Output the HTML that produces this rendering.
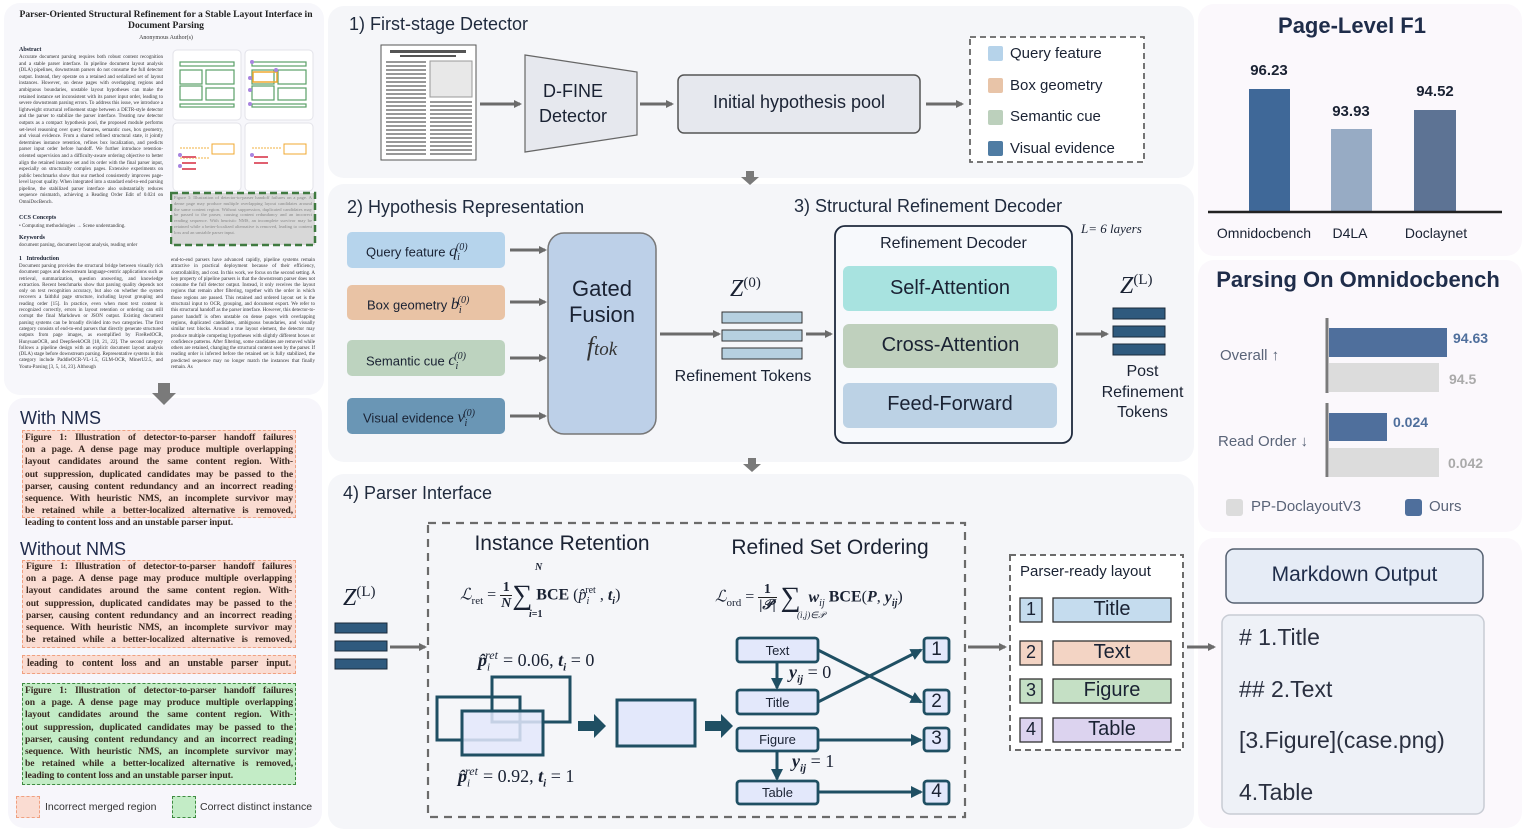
<!DOCTYPE html>
<html><head><meta charset="utf-8">
<style>
*{margin:0;padding:0;box-sizing:border-box}
body{width:1524px;height:831px;background:#fff;position:relative;overflow:hidden;font-family:"Liberation Sans",sans-serif;color:#1a2233}
.a{position:absolute}
.panel{position:absolute;border-radius:16px}
.tiny{font-family:"Liberation Serif",serif;font-size:5px;line-height:6.6px;color:#333;text-align:justify}
.fb{font-family:"Liberation Serif",serif;font-size:9.6px;line-height:12.2px;color:#3a2a22;font-weight:bold}
.fb div{text-align:justify;text-align-last:justify;white-space:nowrap;letter-spacing:-0.1px}
.h{font-size:18px;color:#1f2a3d}
.c{text-align:center}
.ser{font-family:"Liberation Serif",serif}
</style></head><body>

<!-- panels -->
<div class="panel" style="left:4px;top:3px;width:320px;height:392px;background:#f7f7fb"></div>
<div class="panel" style="left:8px;top:398px;width:314px;height:430px;background:#f7f6fb"></div>
<div class="panel" style="left:328px;top:6px;width:866px;height:172px;background:#f5f6f9"></div>
<div class="panel" style="left:328px;top:184px;width:866px;height:278px;background:#f5f6f9"></div>
<div class="panel" style="left:328px;top:474px;width:866px;height:355px;background:#f5f6f9"></div>
<div class="panel" style="left:1198px;top:4px;width:324px;height:252px;background:#fbf8fc"></div>
<div class="panel" style="left:1198px;top:260px;width:324px;height:272px;background:#fbf8fc"></div>
<div class="panel" style="left:1198px;top:538px;width:324px;height:290px;background:#fbf8fc"></div>

<!-- paper -->
<div class="a c ser" style="left:18px;top:9px;width:296px;font-size:9.6px;font-weight:bold;line-height:11px;color:#222">Parser-Oriented Structural Refinement for a Stable Layout Interface in Document Parsing</div>
<div class="a c ser" style="left:18px;top:35px;width:296px;font-size:6px;color:#333">Anonymous Author(s)</div>
<div class="a ser" style="left:19px;top:47px;font-size:6px;font-weight:bold">Abstract</div>
<div class="a tiny" style="left:19px;top:55px;width:144px">Accurate document parsing requires both robust content recognition and a stable parser interface. In pipeline document layout analysis (DLA) pipelines, downstream parsers do not consume the full detector output. Instead, they operate on a retained and serialized set of layout instances. However, on dense pages with overlapping regions and ambiguous boundaries, unstable layout hypotheses can make the retained instance set inconsistent with its parser input order, leading to severe downstream parsing errors. To address this issue, we introduce a lightweight structural refinement stage between a DETR-style detector and the parser to stabilize the parser interface. Treating raw detector outputs as a compact hypothesis pool, the proposed module performs set-level reasoning over query features, semantic cues, box geometry, and visual evidence. From a shared refined structural state, it jointly determines instance retention, refines box localization, and predicts parser input order before handoff. We further introduce retention-oriented supervision and a difficulty-aware ordering objective to better align the retained instance set and its order with the final parser input, especially on structurally complex pages. Extensive experiments on public benchmarks show that our method consistently improves page-level layout quality. When integrated into a standard end-to-end parsing pipeline, the stabilized parser interface also substantially reduces sequence mismatch, achieving a Reading Order Edit of 0.024 on OmniDocBench.</div>
<div class="a ser" style="left:19px;top:215px;font-size:6px;font-weight:bold">CCS Concepts</div>
<div class="a tiny" style="left:19px;top:224px;width:144px">• Computing methodologies → Scene understanding.</div>
<div class="a ser" style="left:19px;top:235px;font-size:6px;font-weight:bold">Keywords</div>
<div class="a tiny" style="left:19px;top:243px;width:144px">document parsing, document layout analysis, reading order</div>
<div class="a ser" style="left:19px;top:256px;font-size:6px;font-weight:bold">1 &nbsp; Introduction</div>
<div class="a tiny" style="left:19px;top:264px;width:144px;line-height:6.3px">Document parsing provides the structural bridge between visually rich document pages and downstream language-centric applications such as retrieval, summarization, question answering, and knowledge extraction. Recent benchmarks show that parsing quality depends not only on text recognition accuracy, but also on whether the system recovers a faithful page structure, including layout grouping and reading order [15]. In practice, even when most text content is recognized correctly, errors in layout retention or ordering can still corrupt the final Markdown or JSON output. Existing document parsing systems can be broadly divided into two categories. The first category consists of end-to-end parsers that directly generate structured outputs from page images, as exemplified by FireRedOCR, HunyuanOCR, and DeepSeekOCR [18, 21, 22]. The second category follows a pipeline design with an explicit document layout analysis (DLA) stage before downstream parsing. Representative systems in this category include PaddleOCR-VL-1.5, GLM-OCR, MinerU2.5, and Youtu-Parsing [3, 5, 14, 23]. Although</div>
<div class="a tiny" style="left:171px;top:258px;width:144px;line-height:6.3px">end-to-end parsers have advanced rapidly, pipeline systems remain attractive in practical deployment because of their efficiency, controllability, and cost. In this work, we focus on the second setting. A key property of pipeline parsers is that the downstream parser does not consume the full detector output. Instead, it only receives the layout regions that remain after filtering, together with the order in which those regions are passed. This retained and ordered layout set is the structural input to OCR, grouping, and document export. We refer to this structural handoff as the parser interface. However, this detector-to-parser handoff is often unstable on dense pages with overlapping regions, duplicated candidates, ambiguous boundaries, and visually similar text blocks. Around a true layout element, the detector may produce multiple competing hypotheses with slightly different boxes or confidence patterns. After filtering, some candidates are removed while others are retained, changing the structural content seen by the parser. If reading order is inferred before the retained set is fully stabilized, the predicted sequence may no longer match the instances that finally remain. As</div>
<!-- paper figure -->
<svg class="a" style="left:170px;top:48px" width="148" height="200">
 <g fill="#fff" stroke="#e3e3ea"><rect x="3" y="2" width="68" height="70" rx="4"/><rect x="75" y="2" width="68" height="70" rx="4"/><rect x="3" y="75" width="68" height="68" rx="4"/><rect x="75" y="75" width="68" height="68" rx="4"/></g>
 <g fill="none" stroke="#5aa068" stroke-width="1.2"><rect x="10" y="14" width="54" height="4"/><rect x="10" y="22" width="22" height="14"/><rect x="36" y="22" width="28" height="14"/><rect x="10" y="38" width="22" height="14"/><rect x="36" y="40" width="28" height="12"/><rect x="10" y="56" width="54" height="3"/>
 <rect x="82" y="14" width="54" height="4"/><rect x="82" y="22" width="22" height="14"/><rect x="108" y="22" width="28" height="14"/><rect x="82" y="38" width="22" height="14"/><rect x="108" y="40" width="28" height="12"/><rect x="82" y="56" width="54" height="3"/></g>
 <rect x="83" y="24" width="24" height="10" fill="none" stroke="#f0a830" stroke-width="1.5"/>
 <g fill="#a884e0"><circle cx="82" cy="14" r="2"/><circle cx="80" cy="30" r="2"/><circle cx="106" cy="22" r="2"/><circle cx="80" cy="42" r="2"/><circle cx="80" cy="56" r="2"/><circle cx="10" cy="107" r="2"/><circle cx="10" cy="118" r="2"/><circle cx="82" cy="107" r="2"/></g>
 <rect x="42" y="96" width="22" height="10" fill="#fff" stroke="#f0a830"/><rect x="114" y="96" width="22" height="10" fill="#fff" stroke="#f0a830"/>
 <g stroke="#f0b040" stroke-dasharray="2,1"><line x1="10" y1="100" x2="40" y2="100"/><line x1="10" y1="110" x2="40" y2="110"/><line x1="82" y1="100" x2="112" y2="100"/></g>
 <g fill="#e06070"><rect x="12" y="108" width="14" height="2"/><rect x="12" y="114" width="14" height="2"/><rect x="12" y="120" width="14" height="2"/><rect x="84" y="108" width="14" height="2"/><rect x="84" y="114" width="14" height="2"/></g>
 <rect x="1" y="145" width="144" height="52" fill="#d8d8d8" stroke="#3f7a40" stroke-width="2.5" stroke-dasharray="7,4"/>
</svg>
<div class="a tiny" style="left:174px;top:195px;width:138px;color:#888;font-size:4.6px;line-height:5.8px">Figure 1: Illustration of detector-to-parser handoff failures on a page. A dense page may produce multiple overlapping layout candidates around the same content region. Without suppression, duplicated candidates may be passed to the parser, causing content redundancy and an incorrect reading sequence. With heuristic NMS, an incomplete survivor may be retained while a better-localized alternative is removed, leading to content loss and an unstable parser input.</div>

<!-- left bottom -->
<div class="a" style="left:20px;top:408px;font-size:18px;color:#1f2a4a">With NMS</div>
<div class="a" style="left:22px;top:430px;width:274px;height:88px;background:#fadcd2;border:1.3px dashed #f0a080"></div>
<div class="a fb" style="left:25px;top:432px;width:268px">
<div>Figure 1: Illustration of detector-to-parser handoff failures</div><div>on a page. A dense page may produce multiple overlapping</div><div>layout candidates around the same content region. With-</div><div>out suppression, duplicated candidates may be passed to the</div><div>parser, causing content redundancy and an incorrect reading</div><div>sequence. With heuristic NMS, an incomplete survivor may</div><div>be retained while a better-localized alternative is removed,</div><div style="text-align-last:left">leading to content loss and an unstable parser input.</div></div>
<div class="a" style="left:20px;top:539px;font-size:18px;color:#1f2a4a">Without NMS</div>
<div class="a" style="left:22px;top:560px;width:274px;height:88px;background:#fadcd2;border:1.3px dashed #f0a080"></div>
<div class="a fb" style="left:26px;top:561px;width:266px">
<div>Figure 1: Illustration of detector-to-parser handoff failures</div><div>on a page. A dense page may produce multiple overlapping</div><div>layout candidates around the same content region. With-</div><div>out suppression, duplicated candidates may be passed to the</div><div>parser, causing content redundancy and an incorrect reading</div><div>sequence. With heuristic NMS, an incomplete survivor may</div><div>be retained while a better-localized alternative is removed,</div></div>
<div class="a" style="left:22px;top:655px;width:274px;height:19px;background:#fadcd2;border:1.3px dashed #f0a080"></div>
<div class="a fb" style="left:27px;top:658px;width:264px;font-size:10px"><div>leading to content loss and an unstable parser input.</div></div>
<div class="a" style="left:22px;top:683px;width:274px;height:102px;background:#c3ecc6;border:1.5px dashed #3f8a40"></div>
<div class="a fb" style="left:25px;top:685px;width:268px">
<div>Figure 1: Illustration of detector-to-parser handoff failures</div><div>on a page. A dense page may produce multiple overlapping</div><div>layout candidates around the same content region. With-</div><div>out suppression, duplicated candidates may be passed to the</div><div>parser, causing content redundancy and an incorrect reading</div><div>sequence. With heuristic NMS, an incomplete survivor may</div><div>be retained while a better-localized alternative is removed,</div><div style="text-align-last:left">leading to content loss and an unstable parser input.</div></div>
<div class="a" style="left:16px;top:796px;width:24px;height:22px;background:#fadcd2;border:1.3px dashed #f0a080"></div>
<div class="a" style="left:45px;top:801px;font-size:10.5px;color:#333">Incorrect merged region</div>
<div class="a" style="left:172px;top:796px;width:24px;height:22px;background:#c3ecc6;border:1.3px dashed #3f8a40"></div>
<div class="a" style="left:200px;top:801px;font-size:10.5px;color:#333">Correct distinct instance</div>

<!-- main svg -->
<svg class="a" style="left:0;top:0" width="1524" height="831">
 <defs>
  <marker id="g" markerWidth="8" markerHeight="8" refX="6" refY="4" orient="auto" markerUnits="userSpaceOnUse"><path d="M0,0 L8,4 L0,8z" fill="#6b6b6b"/></marker>
  <marker id="d" markerWidth="12" markerHeight="12" refX="10" refY="6" orient="auto" markerUnits="userSpaceOnUse"><path d="M0,0 L12,6 L0,12z" fill="#1f4f63"/></marker>
 </defs>
 <g fill="#7a7a7a"><path d="M158,383 h12 v10 h6 l-12,12 l-12,-12 h6z"/><path d="M746,171 h8 v6 h5 l-9,8 l-9,-8 h5z"/><path d="M748,458 h8 v6 h5 l-9,8 l-9,-8 h5z"/></g>
 <rect x="381" y="45" width="95" height="115" fill="#fff" stroke="#555"/>
 <g fill="#555"><rect x="390" y="50" width="76" height="3"/><rect x="400" y="55" width="56" height="2"/></g>
 <g stroke="#777" stroke-width="1.4"><path d="M386,62 h40 M386,66 h40 M386,70 h40 M386,74 h40 M386,78 h40 M386,82 h40 M386,86 h40 M386,90 h40 M386,94 h40 M386,98 h40 M386,102 h40 M386,106 h40 M386,110 h40 M386,114 h40 M386,118 h40 M386,122 h40 M386,126 h40 M386,130 h40 M386,134 h40 M386,138 h40 M386,142 h40 M386,146 h40 M386,150 h40 M386,154 h40"/><path d="M430,102 h42 M430,106 h42 M430,110 h42 M430,114 h42 M430,118 h42 M430,122 h42 M430,126 h42 M430,130 h42 M430,134 h42 M430,138 h42 M430,142 h42 M430,146 h42 M430,150 h42 M430,154 h42"/></g>
 <rect x="430" y="61" width="42" height="36" fill="#e8e8e8" stroke="#999"/>
 <g stroke="#6b6b6b" stroke-width="3" marker-end="url(#g)"><line x1="480" y1="104" x2="520" y2="104"/><line x1="640" y1="104" x2="672" y2="104"/><line x1="926" y1="104" x2="962" y2="104"/></g>
 <path d="M525,55 L637,72 L637,135 L525,152z" fill="#e6e8ee" stroke="#666" stroke-width="1.2"/>
 <rect x="678" y="75" width="242" height="58" rx="6" fill="#e6e8ee" stroke="#555" stroke-width="1.5"/>
 <rect x="970" y="37" width="174" height="125" fill="#fff" stroke="#666" stroke-width="1.8" stroke-dasharray="6,4"/>
 <g><rect x="988" y="46" width="15" height="15" rx="2" fill="#b6d3ea"/><rect x="988" y="78" width="15" height="15" rx="2" fill="#e8c4a8"/><rect x="988" y="110" width="15" height="15" rx="2" fill="#bcd0bc"/><rect x="988" y="141" width="15" height="15" rx="2" fill="#4f7ca3"/></g>

 <rect x="347" y="232" width="158" height="36" rx="5" fill="#b6d4ec"/>
 <rect x="347" y="285" width="158" height="35" rx="5" fill="#e9c3a5"/>
 <rect x="347" y="340" width="158" height="36" rx="5" fill="#bdd3bf"/>
 <rect x="347" y="398" width="158" height="36" rx="5" fill="#6a96b5"/>
 <g stroke="#6b6b6b" stroke-width="3" marker-end="url(#g)"><line x1="510" y1="250" x2="545" y2="250"/><line x1="510" y1="302" x2="545" y2="302"/><line x1="510" y1="358" x2="545" y2="358"/><line x1="510" y1="416" x2="545" y2="416"/>
 <line x1="660" y1="334" x2="719" y2="334"/><line x1="806" y1="334" x2="831" y2="334"/><line x1="1076" y1="334" x2="1107" y2="334"/><line x1="390" y1="647" x2="425" y2="647"/><line x1="968" y1="647" x2="1005" y2="647"/><line x1="1187" y1="647" x2="1214" y2="647"/></g>
 <rect x="548" y="233" width="108" height="201" rx="16" fill="#bdd0e8" stroke="#777" stroke-width="1.5"/>
 <g fill="#b6d0e0" stroke="#333"><rect x="722" y="312" width="80" height="11"/><rect x="722" y="330" width="80" height="11"/><rect x="722" y="348" width="80" height="11"/></g>
 <rect x="835" y="226" width="237" height="217" rx="10" fill="#f7f9fc" stroke="#1f2a3d" stroke-width="1.8"/>
 <rect x="843" y="266" width="214" height="45" rx="6" fill="#a8e3e0"/>
 <rect x="843" y="324" width="215" height="44" rx="6" fill="#bfd0bd"/>
 <rect x="843" y="383" width="214" height="45" rx="6" fill="#bcd2e5"/>
 <g fill="#2f5a7e" stroke="#1a2a3a"><rect x="1113" y="308" width="52" height="11"/><rect x="1113" y="326" width="52" height="11"/><rect x="1113" y="344" width="52" height="11"/>
 <rect x="335" y="623" width="52" height="10"/><rect x="335" y="641" width="52" height="10"/><rect x="335" y="659" width="52" height="10"/></g>

 <rect x="428" y="523" width="537" height="294" fill="none" stroke="#6b6b6b" stroke-width="2.2" stroke-dasharray="8,6"/>
 <g stroke="#1f4f63" stroke-width="3" fill="none"><rect x="492" y="677" width="78" height="45"/><rect x="437" y="697" width="83" height="43"/></g>
 <rect x="462" y="711" width="81" height="44" fill="#e3e8fb" fill-opacity="0.85" stroke="#1f4f63" stroke-width="3"/>
 <rect x="617" y="700" width="78" height="46" fill="#e3e8fb" stroke="#1f4f63" stroke-width="3"/>
 <g fill="#1f4f63"><path d="M578,721 h16 v-7 l12,12 l-12,12 v-7 h-16z"/><path d="M705,721 h16 v-7 l12,12 l-12,12 v-7 h-16z"/></g>
 <g stroke="#1f4f63" stroke-width="3" marker-end="url(#d)"><line x1="818" y1="650" x2="921" y2="702"/><line x1="818" y1="702" x2="921" y2="650"/><line x1="818" y1="740" x2="921" y2="740"/><line x1="818" y1="792" x2="921" y2="792"/><line x1="777" y1="662" x2="777" y2="688"/><line x1="777" y1="751" x2="777" y2="779"/></g>
 <g fill="#e3e8fb" stroke="#1f4f63" stroke-width="2.8"><rect x="737" y="638" width="81" height="24" rx="3"/><rect x="737" y="690" width="81" height="24" rx="3"/><rect x="737" y="728" width="81" height="23" rx="3"/><rect x="737" y="781" width="81" height="23" rx="3"/>
 <rect x="924" y="638" width="25" height="24" rx="3"/><rect x="924" y="690" width="25" height="24" rx="3"/><rect x="924" y="728" width="25" height="23" rx="3"/><rect x="924" y="781" width="25" height="23" rx="3"/></g>
 <rect x="1010" y="555" width="173" height="195" fill="#fff" stroke="#6b6b6b" stroke-width="2" stroke-dasharray="6,4"/>
 <g stroke="#333" stroke-width="1.3"><rect x="1020" y="598" width="22" height="24" fill="#c5dcee"/><rect x="1053" y="598" width="118" height="24" fill="#c5dcee"/>
 <rect x="1020" y="641" width="22" height="24" fill="#f3d4c4"/><rect x="1053" y="641" width="118" height="24" fill="#f3d4c4"/>
 <rect x="1020" y="679" width="22" height="24" fill="#c5e0c5"/><rect x="1053" y="679" width="118" height="24" fill="#c5e0c5"/>
 <rect x="1020" y="718" width="22" height="24" fill="#dcd3ef"/><rect x="1053" y="718" width="118" height="24" fill="#dcd3ef"/></g>

 <rect x="1249" y="89" width="41" height="122" fill="#3f6898"/>
 <rect x="1331" y="129" width="41" height="82" fill="#97abc4"/>
 <rect x="1414" y="110" width="42" height="101" fill="#5d7394"/>
 <line x1="1208" y1="212" x2="1502" y2="212" stroke="#222" stroke-width="2.5"/>
 <g stroke="#7a7a7a" stroke-width="3"><line x1="1327" y1="318" x2="1327" y2="393"/><line x1="1327" y1="403" x2="1327" y2="477"/></g>
 <rect x="1329" y="328" width="118" height="29" fill="#4f6f9c"/>
 <rect x="1329" y="363" width="110" height="29" fill="#dcdcdc"/>
 <rect x="1329" y="413" width="58" height="28" fill="#4f6f9c"/>
 <rect x="1329" y="448" width="110" height="29" fill="#dcdcdc"/>
 <rect x="1226" y="499" width="17" height="17" rx="3" fill="#dcdcdc"/>
 <rect x="1405" y="499" width="17" height="17" rx="3" fill="#4f6f9c"/>
 <rect x="1226" y="549" width="257" height="54" rx="8" fill="#e6ecf6" stroke="#556070" stroke-width="1.5"/>
 <rect x="1222" y="615" width="262" height="199" rx="8" fill="#eef1f7" stroke="#c8ccd4" stroke-width="1.5"/>
</svg>

<div class="a h" style="left:349px;top:14px">1) First-stage Detector</div>
<div class="a c" style="left:525px;top:79px;width:96px;font-size:18px;line-height:25px">D-FINE<br>Detector</div>
<div class="a c" style="left:678px;top:92px;width:242px;font-size:18px">Initial hypothesis pool</div>
<div class="a" style="left:1010px;top:38px;font-size:15px;line-height:31.5px">Query feature<br>Box geometry<br>Semantic cue<br>Visual evidence</div>

<div class="a h" style="left:347px;top:197px">2) Hypothesis Representation</div>
<div class="a h" style="left:794px;top:196px">3) Structural Refinement Decoder</div>
<div class="a" style="left:366px;top:242px;font-size:13px">Query feature <i class="ser" style="font-size:16px">q<sub style="font-size:10px">i</sub><sup style="font-size:10px;position:relative;left:-4px">(0)</sup></i></div>
<div class="a" style="left:367px;top:295px;font-size:13px">Box geometry <i class="ser" style="font-size:16px">b<sub style="font-size:10px">i</sub><sup style="font-size:10px;position:relative;left:-4px">(0)</sup></i></div>
<div class="a" style="left:366px;top:351px;font-size:13px">Semantic cue <i class="ser" style="font-size:16px">c<sub style="font-size:10px">i</sub><sup style="font-size:10px;position:relative;left:-4px">(0)</sup></i></div>
<div class="a" style="left:363px;top:408px;font-size:13px">Visual evidence <i class="ser" style="font-size:16px">v<sub style="font-size:10px">i</sub><sup style="font-size:10px;position:relative;left:-4px">(0)</sup></i></div>
<div class="a c" style="left:548px;top:276px;width:108px;font-size:22px;line-height:26px">Gated<br>Fusion</div>
<div class="a c ser" style="left:548px;top:332px;width:108px;font-size:26px;font-style:italic;color:#333">f<span style="font-size:19px">tok</span></div>
<div class="a ser" style="left:730px;top:275px;font-size:24px;font-style:italic">Z<sup style="font-size:15px;font-style:normal">(0)</sup></div>
<div class="a c" style="left:663px;top:368px;width:160px;font-size:16px">Refinement Tokens</div>
<div class="a c" style="left:835px;top:235px;width:237px;font-size:16px">Refinement Decoder</div>
<div class="a c" style="left:843px;top:277px;width:214px;font-size:20px">Self-Attention</div>
<div class="a c" style="left:843px;top:334px;width:215px;font-size:20px">Cross-Attention</div>
<div class="a c" style="left:843px;top:393px;width:214px;font-size:20px">Feed-Forward</div>
<div class="a ser" style="left:1081px;top:221px;font-size:13px;font-style:italic">L= 6 layers</div>
<div class="a ser" style="left:1120px;top:272px;font-size:24px;font-style:italic">Z<sup style="font-size:15px;font-style:normal">(L)</sup></div>
<div class="a c" style="left:1095px;top:362px;width:95px;font-size:16px;line-height:20.5px">Post<br>Refinement<br>Tokens</div>

<div class="a h" style="left:343px;top:483px">4) Parser Interface</div>
<div class="a ser" style="left:343px;top:584px;font-size:24px;font-style:italic">Z<sup style="font-size:15px;font-style:normal">(L)</sup></div>
<div class="a c" style="left:462px;top:532px;width:200px;font-size:21px">Instance Retention</div>
<div class="a c" style="left:720px;top:536px;width:220px;font-size:21px">Refined Set Ordering</div>
<div class="a ser" style="left:460px;top:580px;font-size:16px;white-space:nowrap"><i>ℒ</i><sub style="font-size:11px">ret</sub> = <span style="display:inline-block;vertical-align:middle;text-align:center;font-weight:bold;line-height:16px;font-size:14px">1<br><span style="border-top:1.5px solid #222;padding:0 1px"><i>N</i></span></span><span style="font-size:28px;vertical-align:middle">∑</span> <b>BCE</b> (<i>p̂</i><sub style="font-size:10px"><i>i</i></sub><sup style="font-size:10px;position:relative;left:-4px">ret</sup>, <b><i>t<sub style="font-size:10px">i</sub></i></b>)</div>
<div class="a ser" style="left:535px;top:562px;font-size:10px;font-style:italic;font-weight:bold">N</div>
<div class="a ser" style="left:529px;top:609px;font-size:10px;font-weight:bold"><i>i</i>=1</div>
<div class="a ser" style="left:715px;top:582px;font-size:16px;white-space:nowrap"><i>ℒ</i><sub style="font-size:11px">ord</sub> = <span style="display:inline-block;vertical-align:middle;text-align:center;font-weight:bold;line-height:16px;font-size:14px">1<br><span style="border-top:1.5px solid #222;padding:0 1px">|<i>𝒫</i>|</span></span> <span style="font-size:28px;vertical-align:middle">∑</span> &nbsp;<i><b>w</b><sub style="font-size:10px">ij</sub></i> <b>BCE</b>(<b><i>P</i></b>, <b><i>y<sub style="font-size:10px">ij</sub></i></b>)</div>
<div class="a ser" style="left:797px;top:610px;font-size:9px;font-style:italic">(i,j)∈𝒫</div>
<div class="a ser" style="left:478px;top:648px;font-size:18px;white-space:nowrap"><b><i>p̂</i></b><sub style="font-size:11px"><i>i</i></sub><sup style="font-size:12px;position:relative;left:-5px"><i>ret</i></sup>= 0.06, <b><i>t<sub style="font-size:11px">i</sub></i></b> = 0</div>
<div class="a ser" style="left:458px;top:764px;font-size:18px;white-space:nowrap"><b><i>p̂</i></b><sub style="font-size:11px"><i>i</i></sub><sup style="font-size:12px;position:relative;left:-5px"><i>ret</i></sup>= 0.92, <b><i>t<sub style="font-size:11px">i</sub></i></b> = 1</div>
<div class="a c" style="left:737px;top:643px;width:81px;font-size:13px">Text</div>
<div class="a c" style="left:737px;top:695px;width:81px;font-size:13px">Title</div>
<div class="a c" style="left:737px;top:732px;width:81px;font-size:13px">Figure</div>
<div class="a c" style="left:737px;top:785px;width:81px;font-size:13px">Table</div>
<div class="a c" style="left:924px;top:639px;width:25px;font-size:19px">1</div>
<div class="a c" style="left:924px;top:691px;width:25px;font-size:19px">2</div>
<div class="a c" style="left:924px;top:728px;width:25px;font-size:19px">3</div>
<div class="a c" style="left:924px;top:781px;width:25px;font-size:19px">4</div>
<div class="a ser" style="left:789px;top:662px;font-size:18px;white-space:nowrap"><b><i>y<sub style="font-size:11px">ij</sub></i></b> = 0</div>
<div class="a ser" style="left:792px;top:751px;font-size:18px;white-space:nowrap"><b><i>y<sub style="font-size:11px">ij</sub></i></b> = 1</div>
<div class="a" style="left:1020px;top:563px;font-size:15px">Parser-ready layout</div>
<div class="a c" style="left:1020px;top:599px;width:22px;font-size:18px">1</div>
<div class="a c" style="left:1020px;top:642px;width:22px;font-size:18px">2</div>
<div class="a c" style="left:1020px;top:680px;width:22px;font-size:18px">3</div>
<div class="a c" style="left:1020px;top:719px;width:22px;font-size:18px">4</div>
<div class="a c" style="left:1053px;top:598px;width:118px;font-size:20px">Title</div>
<div class="a c" style="left:1053px;top:641px;width:118px;font-size:20px">Text</div>
<div class="a c" style="left:1053px;top:679px;width:118px;font-size:20px">Figure</div>
<div class="a c" style="left:1053px;top:718px;width:118px;font-size:20px">Table</div>

<div class="a c" style="left:1200px;top:13px;width:304px;font-size:22px;font-weight:bold;color:#1f2d4a">Page-Level F1</div>
<div class="a c" style="left:1239px;top:62px;width:60px;font-size:15px;font-weight:bold">96.23</div>
<div class="a c" style="left:1321px;top:103px;width:60px;font-size:15px;font-weight:bold">93.93</div>
<div class="a c" style="left:1405px;top:83px;width:60px;font-size:15px;font-weight:bold">94.52</div>
<div class="a c" style="left:1205px;top:225px;width:118px;font-size:14px">Omnidocbench</div>
<div class="a c" style="left:1320px;top:225px;width:60px;font-size:14px">D4LA</div>
<div class="a c" style="left:1396px;top:225px;width:80px;font-size:14px">Doclaynet</div>
<div class="a c" style="left:1200px;top:267px;width:316px;font-size:22px;font-weight:bold;color:#1f2d4a">Parsing On Omnidocbench</div>
<div class="a" style="left:1220px;top:347px;font-size:15px;color:#5a6478">Overall ↑</div>
<div class="a" style="left:1218px;top:433px;font-size:15px;color:#5a6478">Read Order ↓</div>
<div class="a" style="left:1453px;top:330px;font-size:14px;font-weight:bold;color:#4f6f9c">94.63</div>
<div class="a" style="left:1449px;top:371px;font-size:14px;font-weight:bold;color:#aaa">94.5</div>
<div class="a" style="left:1393px;top:414px;font-size:14px;font-weight:bold;color:#4f6f9c">0.024</div>
<div class="a" style="left:1448px;top:455px;font-size:14px;font-weight:bold;color:#aaa">0.042</div>
<div class="a" style="left:1251px;top:498px;font-size:15px;color:#5a6478">PP-DoclayoutV3</div>
<div class="a" style="left:1429px;top:498px;font-size:15px;color:#5a6478">Ours</div>
<div class="a c" style="left:1226px;top:563px;width:257px;font-size:21px;color:#1f2d4a">Markdown Output</div>
<div class="a" style="left:1239px;top:612px;font-size:23px;line-height:51.5px;color:#2a3040">#&nbsp;1.Title<br>##&nbsp;2.Text<br>[3.Figure](case.png)<br>4.Table</div>
</body></html>
